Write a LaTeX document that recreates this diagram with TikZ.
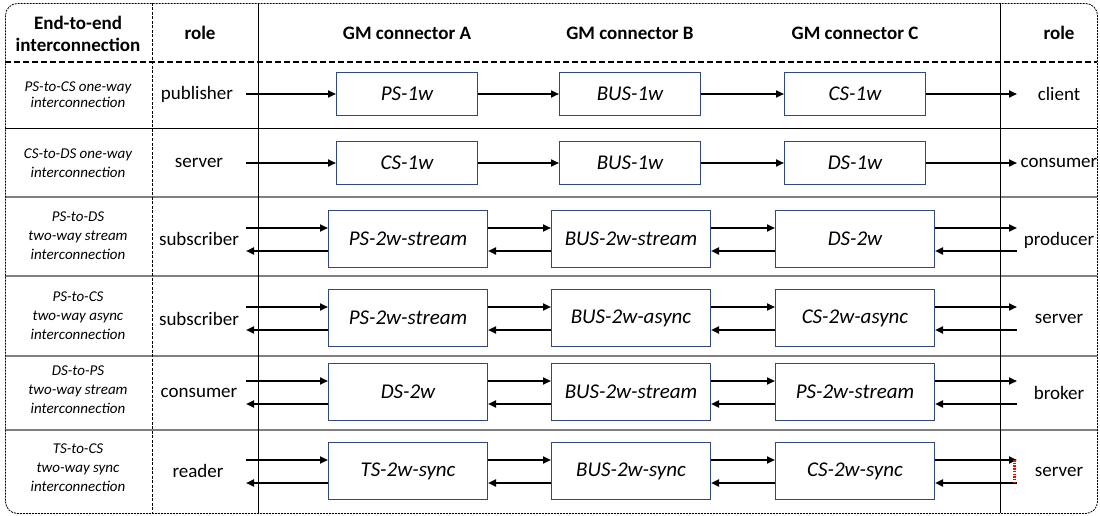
\documentclass[tikz,border=0pt]{standalone}
\usepackage{fontspec}
\setmainfont{Carlito}
\usetikzlibrary{arrows.meta,calc}
\definecolor{boxblue}{RGB}{47,72,130}
\definecolor{rulegray}{RGB}{128,128,128}
\begin{document}
\begin{tikzpicture}[x=1pt,y=-1pt,
  hdr/.style={font=\fontsize{19}{22}\selectfont\bfseries, align=center, inner sep=0pt},
  rolelbl/.style={font=\fontsize{19}{22}\selectfont, inner sep=0pt},
  rowlbl/.style={font=\itshape\fontsize{15}{19}\selectfont, align=center, inner sep=0pt},
  rowlblA/.style={font=\itshape\fontsize{15}{16}\selectfont, align=center, inner sep=0pt},
  gmbox/.style={draw=boxblue, line width=1pt, fill=white, font=\itshape\fontsize{21}{24}\selectfont, inner sep=0pt},
  onew/.style={gmbox, minimum width=141pt, minimum height=43pt},
  twow/.style={gmbox, minimum width=159pt, minimum height=57pt},
  flow/.style={line width=2pt, -{Triangle[length=8pt,width=7pt]}},
  rowline/.style={draw=rulegray, line width=1.6pt},
  colline/.style={line width=1pt},
  loopback/.style={draw=red, line width=2.2pt, dash pattern=on 1.5pt off 1.2pt},
]
\useasboundingbox (0,0) rectangle (1100,516);

% grid
\draw[rowline] (5,197) -- (1097,197);
\draw[rowline] (5,276) -- (1097,276);
\draw[rowline] (5,356) -- (1097,356);
\draw[rowline] (5,430) -- (1097,430);
\draw[colline] (5,128.5) -- (1097,128.5);
\draw[line width=2pt, dash pattern=on 6pt off 3pt] (5,62) -- (1097,62);
\draw[line width=1pt, dash pattern=on 3pt off 1.5pt] (152.5,3) -- (152.5,513);
\draw[colline] (258.5,3) -- (258.5,513);
\draw[colline] (1000.5,3) -- (1000.5,513);
\draw[line width=0.8pt, rounded corners=12pt, dash pattern=on 2pt off 1pt] (5.5,3.5) rectangle (1097.5,513.5);

% header
\node[hdr] (h0) at (78,34) {End-to-end\\[0pt]interconnection};
\node[hdr] (h1) at (200,33) {role};
\node[hdr] (h2) at (407,33) {GM connector A};
\node[hdr] (h3) at (630,33) {GM connector B};
\node[hdr] (h4) at (855,33) {GM connector C};
\node[hdr] (h5) at (1059,33) {role};

% row labels
\node[rowlblA] (e1) at (78,95) {PS-to-CS one-way\\interconnection};
\node[rowlbl] (e2) at (78,163) {CS-to-DS one-way\\interconnection};
\node[rowlbl] (e3) at (78,236) {PS-to-DS\\two-way stream\\interconnection};
\node[rowlbl] (e4) at (78,316) {PS-to-CS\\two-way async\\interconnection};
\node[rowlbl] (e5) at (78,390) {DS-to-PS\\two-way stream\\interconnection};
\node[rowlbl] (e6) at (78,468) {TS-to-CS\\two-way sync\\interconnection};

% left roles
\node[rolelbl] (p1) at (197,94) {publisher};
\node[rolelbl] (p2) at (199,163) {server};
\node[rolelbl] (p3) at (199,239) {subscriber};
\node[rolelbl] (p4) at (199,319) {subscriber};
\node[rolelbl] (p5) at (199,393) {consumer};
\node[rolelbl] (p6) at (198,471) {reader};

% right roles
\node[rolelbl] (q1) at (1059,94) {client};
\node[rolelbl] (q2) at (1059,163) {consumer};
\node[rolelbl] (q3) at (1059,240) {producer};
\node[rolelbl] (q4) at (1059,319) {server};
\node[rolelbl] (q5) at (1059,393) {broker};
\node[rolelbl] (q6) at (1059,472) {server};

% one-way rows
\node[onew] (a1) at (407,94) {PS-1w};
\node[onew] (b1) at (630,94) {BUS-1w};
\node[onew] (c1) at (855,94) {CS-1w};
\node[onew] (a2) at (407,163) {CS-1w};
\node[onew] (b2) at (630,163) {BUS-1w};
\node[onew] (c2) at (855,163) {DS-1w};

\coordinate (l1) at (246,94);
\coordinate (r1) at (1017,94);
\coordinate (l2) at (246,163);
\coordinate (r2) at (1017,163);
\foreach \i in {1,2}{
  \draw[flow] (l\i) -- (a\i);
  \draw[flow] (a\i) -- (b\i);
  \draw[flow] (b\i) -- (c\i);
  \draw[flow] (c\i) -- (r\i);
}

% two-way rows
\node[twow] (a3) at (408,239) {PS-2w-stream};
\node[twow] (b3) at (631,239) {BUS-2w-stream};
\node[twow] (c3) at (855,239) {DS-2w};
\node[twow] (a4) at (408,318) {PS-2w-stream};
\node[twow] (b4) at (631,318) {BUS-2w-async};
\node[twow] (c4) at (855,318) {CS-2w-async};
\node[twow] (a5) at (408,392) {DS-2w};
\node[twow] (b5) at (631,392) {BUS-2w-stream};
\node[twow] (c5) at (855,392) {PS-2w-stream};
\node[twow] (a6) at (408,471) {TS-2w-sync};
\node[twow] (b6) at (631,471) {BUS-2w-sync};
\node[twow] (c6) at (855,471) {CS-2w-sync};

\foreach \i/\cy in {3/239,4/318,5/392,6/471}{
  \coordinate (l\i) at (246,\cy);
  \coordinate (r\i) at (1017,\cy);
  % forward (top)
  \draw[flow] ($(l\i)+(0,-11)$) -- ($(a\i.west)+(0,-11)$);
  \draw[flow] ($(a\i.east)+(0,-11)$) -- ($(b\i.west)+(0,-11)$);
  \draw[flow] ($(b\i.east)+(0,-11)$) -- ($(c\i.west)+(0,-11)$);
  \draw[flow] ($(c\i.east)+(0,-11)$) -- ($(r\i)+(0,-11)$);
  % backward (bottom)
  \draw[flow] ($(r\i)+(0,12)$) -- ($(c\i.east)+(0,12)$);
  \draw[flow] ($(c\i.west)+(0,12)$) -- ($(b\i.east)+(0,12)$);
  \draw[flow] ($(b\i.west)+(0,12)$) -- ($(a\i.east)+(0,12)$);
  \draw[flow] ($(a\i.west)+(0,12)$) -- ($(l\i)+(0,12)$);
}

% sync loop-back marker
\coordinate (s1) at ($(r6)+(-2.5,-11)$);
\coordinate (s2) at ($(r6)+(-2.5,12)$);
\draw[loopback] (s1) -- (s2);
\end{tikzpicture}
\end{document}
